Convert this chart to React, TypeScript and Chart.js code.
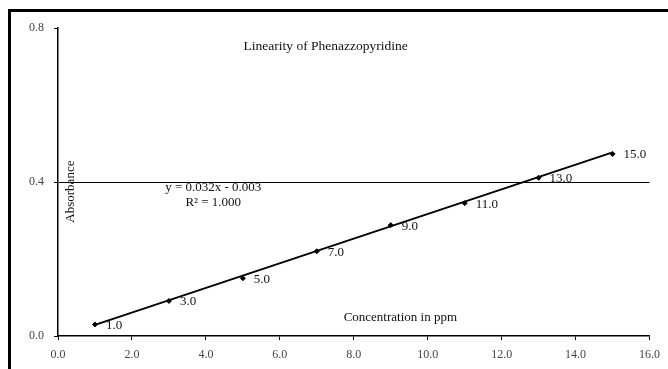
import React, { useEffect, useRef } from "react";
import { Chart, registerables } from "chart.js";

Chart.register(...registerables);

const concentrations = [1, 3, 5, 7, 9, 11, 13, 15];
const absorbance = [0.03, 0.091, 0.15, 0.22, 0.288, 0.345, 0.411, 0.473];
const pointLabels = ["1.0", "3.0", "5.0", "7.0", "9.0", "11.0", "13.0", "15.0"];
const trendX = [1, 15];
const trendY = [0.029, 0.477];
const chartTitle = "Linearity of Phenazzopyridine";
const equationText = "y = 0.032x - 0.003";
const r2Text = "R² = 1.000";
const xTitle = "Concentration in ppm";
const yTitle = "Absorbance";

const FONT = "'Liberation Serif', 'DejaVu Serif', serif";

const overlayPlugin = {
  id: "overlay",
  beforeDraw(chart: any) {
    const ctx = chart.ctx;
    ctx.save();
    ctx.fillStyle = "#fff";
    ctx.fillRect(0, 0, chart.width, chart.height);
    ctx.strokeStyle = "#000";
    ctx.lineWidth = 3;
    ctx.beginPath();
    ctx.moveTo(9.5, chart.height + 5);
    ctx.lineTo(9.5, 10.5);
    ctx.lineTo(chart.width + 5, 10.5);
    ctx.stroke();
    ctx.restore();
  },
  afterDraw(chart: any) {
    const ctx = chart.ctx;
    const xs = chart.scales.x;
    const ys = chart.scales.y;
    ctx.save();
    ctx.fillStyle = "#111";
    ctx.textBaseline = "middle";
    // title
    ctx.font = `13.5px ${FONT}`;
    ctx.textAlign = "center";
    ctx.fillText(chartTitle, xs.getPixelForValue(7.24), ys.getPixelForValue(0.751));
    // equation
    ctx.font = `13px ${FONT}`;
    ctx.fillText(equationText, xs.getPixelForValue(4.2), ys.getPixelForValue(0.385));
    ctx.fillText(r2Text, xs.getPixelForValue(4.2), ys.getPixelForValue(0.346));
    // x title
    ctx.fillText(xTitle, xs.getPixelForValue(9.26), ys.getPixelForValue(0.049));
    // y title
    ctx.save();
    ctx.translate(xs.getPixelForValue(0.35), ys.getPixelForValue(0.375));
    ctx.rotate(-Math.PI / 2);
    ctx.fillText(yTitle, 0, 0);
    ctx.restore();
    // point labels
    ctx.textAlign = "left";
    ctx.font = `13px ${FONT}`;
    concentrations.forEach((c, i) => {
      const px = xs.getPixelForValue(c);
      const py = ys.getPixelForValue(absorbance[i]);
      ctx.fillText(pointLabels[i], px + 11, py + 1);
    });
    ctx.restore();
  },
};

export default function App() {
  const ref = useRef<HTMLCanvasElement>(null);
  useEffect(() => {
    if (!ref.current) return;
    const chart = new Chart(ref.current, {
      type: "scatter",
      data: {
        datasets: [
          {
            label: "trend",
            data: trendX.map((x, i) => ({ x, y: trendY[i] })),
            showLine: true,
            borderColor: "#000",
            borderWidth: 2,
            pointRadius: 0,
          },
          {
            label: "points",
            data: concentrations.map((x, i) => ({ x, y: absorbance[i] })),
            backgroundColor: "#000",
            borderColor: "#000",
            pointRadius: 2.5,
            pointStyle: "rectRot",
          },
        ],
      },
      options: {
        animation: false,
        responsive: true,
        maintainAspectRatio: false,
        layout: { padding: { left: 0, right: 15, top: 28, bottom: 0 } },
        plugins: { legend: { display: false }, tooltip: { enabled: false }, title: { display: false } },
        scales: {
          x: {
            type: "linear",
            min: 0,
            max: 16,
            ticks: {
              stepSize: 2,
              callback: (v: any) => Number(v).toFixed(1),
              font: { family: FONT, size: 12 },
              color: "#444",
              padding: 8,
              maxRotation: 0,
            },
            grid: { drawOnChartArea: false, drawTicks: true, tickLength: 4, color: "#000", tickWidth: 1 },
            border: { color: "#000", width: 1.5 },
            afterFit: (s: any) => {
              s.height = 33;
            },
          },
          y: {
            type: "linear",
            min: 0,
            max: 0.8,
            ticks: {
              stepSize: 0.4,
              callback: (v: any) => Number(v).toFixed(1),
              font: { family: FONT, size: 12 },
              color: "#444",
              padding: 10,
            },
            grid: {
              drawTicks: true,
              tickLength: 4,
              color: (c: any) => (Math.abs(c.tick?.value - 0.4) < 1e-6 ? "#000" : "rgba(0,0,0,0)"),
              tickColor: "#000",
              lineWidth: 1,
            },
            border: { color: "#000", width: 1.5 },
            afterFit: (s: any) => {
              s.width = 58;
            },
          },
        },
      },
      plugins: [overlayPlugin],
    });
    return () => chart.destroy();
  }, []);
  return (
    <div style={{ position: "fixed", left: 0, top: 0, width: 668, height: 369, background: "#fff" }}>
      <canvas ref={ref} />
    </div>
  );
}
